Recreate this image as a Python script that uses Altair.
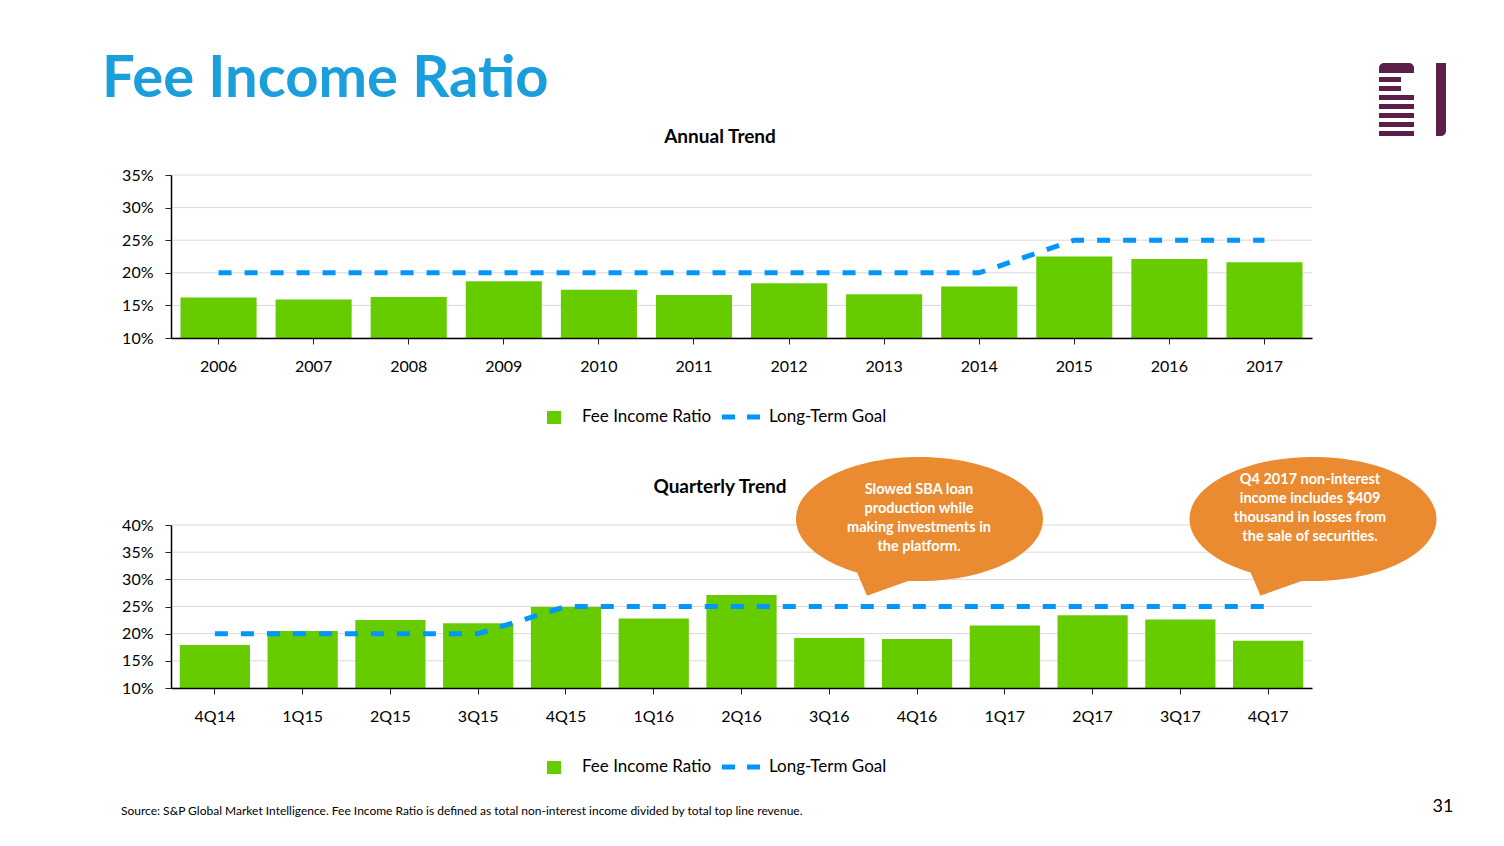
import altair as alt
import pandas as pd

# ---------------- data ----------------
years = ["2006", "2007", "2008", "2009", "2010", "2011", "2012", "2013", "2014", "2015", "2016", "2017"]
annual_ratio = [16.2, 15.9, 16.3, 18.7, 17.4, 16.6, 18.4, 16.7, 17.9, 22.5, 22.1, 21.6]
annual_goal = [20, 20, 20, 20, 20, 20, 20, 20, 20, 25, 25, 25]
annual_ticks = [10, 15, 20, 25, 30, 35]

quarters = ["4Q14", "1Q15", "2Q15", "3Q15", "4Q15", "1Q16", "2Q16", "3Q16", "4Q16", "1Q17", "2Q17", "3Q17", "4Q17"]
quarterly_ratio = [17.9, 20.5, 22.5, 21.9, 24.9, 22.8, 27.1, 19.2, 19.0, 21.5, 23.4, 22.6, 18.7]
quarterly_goal = [20, 20, 20, 20, 25, 25, 25, 25, 25, 25, 25, 25, 25]
quarterly_ticks = [10, 15, 20, 25, 30, 35, 40]

slide_title = "Fee Income Ratio"
annual_title = "Annual Trend"
quarterly_title = "Quarterly Trend"
legend_bar = "Fee Income Ratio"
legend_line = "Long-Term Goal"
callout_1 = ["Slowed SBA loan", "production while", "making investments in", "the platform."]
callout_2 = ["Q4 2017 non-interest", "income includes $409", "thousand in losses from", "the sale of securities."]
source_note = ("Source: S&P Global Market Intelligence. Fee Income Ratio is defined as total "
               "non-interest income divided by total top line revenue.")
page_number = "31"

# ---------------- styles ----------------
FONT = "Lato"
GREEN = "#66CC00"
BLUE = "#0096FA"
ORANGE = "#EA8A31"
TITLE_BLUE = "#1A9FDC"
PURPLE = "#5C1F4A"
GRID = "#D9D9D9"
W, H = 1488, 830
X0, X1 = 163, 1304

one = pd.DataFrame({"k": [0]})


def panel(cats, ratio, goal, ticks, y_bottom, y_top):
    df = pd.DataFrame({"cat": cats, "ratio": ratio, "goal": goal})
    xs = alt.Scale(domain=cats, range=[X0, X1], paddingInner=0.2, paddingOuter=0.1)
    ys = alt.Scale(domain=[ticks[0], ticks[-1]], range=[y_bottom, y_top], nice=False, zero=False)
    xax = alt.Axis(orient="bottom", offset=y_bottom - H, title=None, labelFont=FONT,
                   labelFontSize=16, labelColor="#000", labelAngle=0, labelBaseline="middle",
                   labelPadding=22, tickSize=6, tickColor="#222", domainColor="#000",
                   domainWidth=1.5, grid=False, zindex=2)
    yax = alt.Axis(orient="left", offset=-X0, title=None, values=ticks,
                   labelExpr="datum.value + '%'", labelFont=FONT, labelFontSize=16,
                   labelColor="#000", labelPadding=12, tickSize=6, tickColor="#222",
                   domainColor="#000", domainWidth=1.5, grid=False, zindex=2)
    grid = alt.Chart(pd.DataFrame({"t": ticks})).mark_rule(color=GRID, strokeWidth=1).encode(
        y=alt.Y("t:Q", scale=ys, axis=yax),
        x=alt.value(X0), x2=alt.value(X1),
    )
    bars = alt.Chart(df).mark_bar(color=GREEN).encode(
        x=alt.X("cat:N", scale=xs, axis=xax, sort=None),
        y=alt.Y("ratio:Q", scale=ys, axis=yax),
        y2=alt.datum(ticks[0]),
    )
    line = alt.Chart(df).mark_line(color=BLUE, strokeWidth=5, strokeDash=[13, 13],
                                   strokeCap="butt").encode(
        x=alt.X("cat:N", scale=xs, axis=xax, sort=None),
        y=alt.Y("goal:Q", scale=ys, axis=yax),
    )
    return alt.layer(grid, bars, line)


def text(s, x, y, size, bold=False, color="#000", align="left", line_height=None):
    kw = dict(text=s, font=FONT, fontSize=size, fontWeight="bold" if bold else "normal",
              color=color, align=align, baseline="middle")
    if line_height:
        kw["lineHeight"] = line_height
    return alt.Chart(one).mark_text(**kw).encode(x=alt.value(x), y=alt.value(y))


def rect(x, x2, y, y2, color, **kw):
    return alt.Chart(one).mark_rect(color=color, **kw).encode(
        x=alt.value(x), x2=alt.value(x2), y=alt.value(y), y2=alt.value(y2))


def legend(y):
    return [
        rect(539, 553, y - 6, y + 7, GREEN),
        alt.Chart(one).mark_rule(color=BLUE, strokeWidth=5, strokeDash=[13, 12],
                                 strokeCap="butt").encode(
            x=alt.value(714), x2=alt.value(752), y=alt.value(y)),
        text(legend_bar, 574, y, 17),
        text(legend_line, 761, y, 17),
    ]


annual = panel(years, annual_ratio, annual_goal, annual_ticks, 330, 167)
quarterly = panel(quarters, quarterly_ratio, quarterly_goal, quarterly_ticks, 680, 517)

# speech bubble: ellipse + tail, in unit coordinates
BUBBLE = ("M-1,0 C-1,-0.2773 -0.5523,-0.502 0,-0.502 C0.5523,-0.502 1,-0.2773 1,0 "
          "C1,0.2773 0.5523,0.502 0,0.502 C-0.5523,0.502 -1,0.2773 -1,0 Z "
          "M-0.069,0.494 L-0.425,0.621 L-0.514,0.413 Z")


def bubble(cx, cy):
    return alt.Chart(one).mark_point(shape=BUBBLE, size=247 * 247, filled=True, fill=ORANGE,
                                     opacity=1, strokeWidth=0).encode(
        x=alt.value(cx), y=alt.value(cy))


logo = [
    rect(1371, 1406, 55, 65, PURPLE, cornerRadiusTopLeft=6, cornerRadiusTopRight=8),
    rect(1371, 1393, 69, 74, PURPLE),
    rect(1371, 1393, 78, 83, PURPLE),
    rect(1371, 1406, 87, 92, PURPLE),
    rect(1371, 1406, 96, 101, PURPLE),
    rect(1371, 1406, 105, 110, PURPLE),
    rect(1371, 1406, 114, 119, PURPLE),
    rect(1371, 1406, 123, 128, PURPLE),
    rect(1428, 1438, 55, 128, PURPLE, cornerRadiusBottomRight=6),
]

decor = (
    [text(slide_title, 94, 72, 58, bold=True, color=TITLE_BLUE),
     text(annual_title, 712, 129, 19, bold=True, align="center"),
     text(quarterly_title, 712, 479, 19, bold=True, align="center")]
    + legend(409) + legend(759)
    + [bubble(911.5, 511), bubble(1305, 511),
       text(callout_1, 911, 482, 14.5, bold=True, color="white", align="center", line_height=19),
       text(callout_2, 1302, 472, 14.5, bold=True, color="white", align="center", line_height=19),
       text(source_note, 113, 803, 12),
       text(page_number, 1435, 799, 18, align="center")]
    + logo
)

chart = alt.layer(annual, quarterly, *decor).resolve_scale(
    x="independent", y="independent"
).properties(
    width=W, height=H, padding=0, background="white",
    autosize=alt.AutoSizeParams(type="none"),
).configure_view(stroke=None)

chart.save("out.html", embed_options={"renderer": "svg", "actions": False})
